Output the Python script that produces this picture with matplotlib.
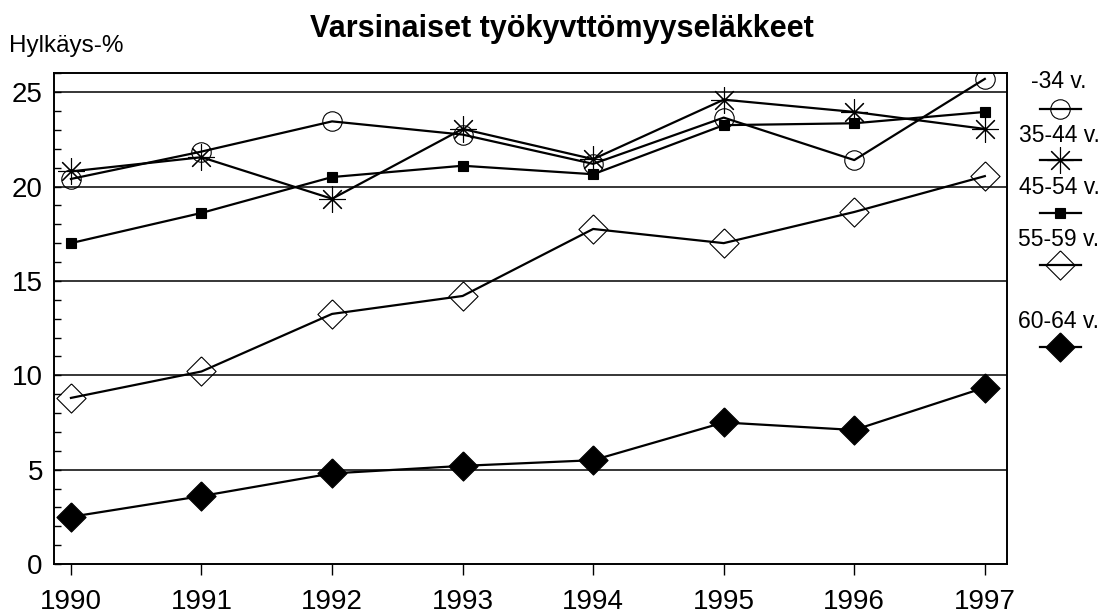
import numpy as np
from matplotlib import pyplot as plt
from matplotlib.ticker import MultipleLocator

plt.rcParams['font.family'] = ['Liberation Sans', 'DejaVu Sans']

years = [1990, 1991, 1992, 1993, 1994, 1995, 1996, 1997]
labels = ["-34 v.", "35-44 v.", "45-54 v.", "55-59 v.", "60-64 v."]

age_34 = [20.4, 21.85, 23.45, 22.75, 21.2, 23.65, 21.4, 25.7]
age_35_44 = [20.8, 21.55, 19.35, 23.05, 21.45, 24.6, 23.95, 23.05]
age_45_54 = [17.0, 18.6, 20.5, 21.1, 20.65, 23.25, 23.35, 23.95]
age_55_59 = [8.8, 10.2, 13.25, 14.2, 17.75, 17.0, 18.65, 20.55]
age_60_64 = [2.5, 3.6, 4.8, 5.2, 5.5, 7.5, 7.1, 9.35]

series = [age_34, age_35_44, age_45_54, age_55_59, age_60_64]

diamond = [(0, 1), (1, 0), (0, -1), (-1, 0), (0, 1)]
styles = [
    dict(marker="o", markersize=14, markerfacecolor="none", markeredgewidth=0.8),
    dict(marker=(8, 2, 0), markersize=19, markeredgewidth=0.8),
    dict(marker="s", markersize=6.5, markerfacecolor="black", markeredgewidth=0.8),
    dict(marker=diamond, markersize=21, markerfacecolor="none", markeredgewidth=0.8),
    dict(marker=diamond, markersize=21, markerfacecolor="black", markeredgewidth=0.8),
]

fig = plt.figure(figsize=(11.06, 6.15), dpi=100)
ax = fig.add_axes([0.0488, 0.0829, 0.8617, 0.798])

for ys, st in zip(series, styles):
    ax.plot(years, ys, color="black", linewidth=1.6, markeredgecolor="black", **st)

ax.set_xlim(1989.87, 1997.17)
ax.set_ylim(0, 26)
ax.set_xticks(years)
ax.set_yticks([0, 5, 10, 15, 20, 25])
ax.yaxis.set_minor_locator(MultipleLocator(1))
for y in [5, 10, 15, 20, 25]:
    ax.axhline(y, color="black", linewidth=1.1, zorder=0)
ax.tick_params(axis="x", direction="out", length=8, width=1, labelsize=20, pad=10)
ax.tick_params(axis="y", which="both", direction="in", length=5, width=1, labelsize=20, pad=8)
for sp in ax.spines.values():
    sp.set_linewidth(1.4)

fig.text(0.508, 0.953, "Varsinaiset työkyvttömyyseläkkeet", ha="center", va="center",
         fontsize=22, fontweight="bold")
fig.text(0.008, 0.925, "Hylkäys-%", ha="left", va="center", fontsize=17.5)

# legend drawn by hand: label above the marker sample
lax = fig.add_axes([0, 0, 1, 1])
lax.set_xlim(0, 1106)
lax.set_ylim(615, 0)
lax.axis("off")
text_y = [82, 135, 187, 239, 322]
mark_y = [109, 160, 213, 265, 347]
for lab, st, ty, my in zip(labels, styles, text_y, mark_y):
    lax.text(1059, ty, lab, ha="center", va="center", fontsize=16.5)
    lax.plot([1040, 1060, 1081], [my, my, my], color="black", linewidth=1.6,
             markevery=[1], markeredgecolor="black", **st)

plt.savefig("out.png", dpi=100)
